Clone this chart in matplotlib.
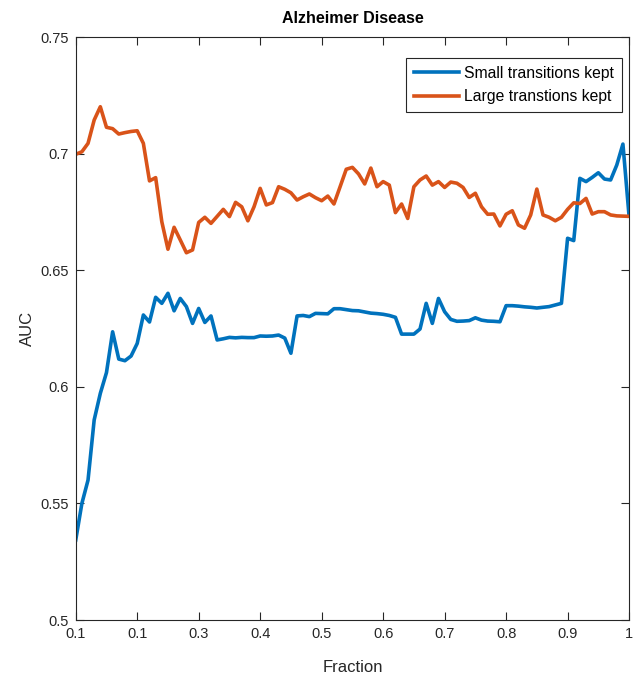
import numpy as np
import matplotlib
matplotlib.use("Agg")
import matplotlib.pyplot as plt

plt.rcParams['font.family'] = ['Liberation Sans', 'DejaVu Sans']

# fraction of transitions kept, 0.10 .. 1.00
fraction = np.round(np.arange(0.10, 1.001, 0.01), 2)

small_kept = [
    0.5343, 0.5500, 0.5600, 0.5858, 0.5972, 0.6061, 0.6236, 0.6119, 0.6112, 0.6132,
    0.6186, 0.6308, 0.6278, 0.6384, 0.6358, 0.6401, 0.6326, 0.6379, 0.6344, 0.6272,
    0.6336, 0.6276, 0.6304, 0.6201, 0.6206, 0.6212, 0.6210, 0.6212, 0.6211, 0.6211,
    0.6218, 0.6217, 0.6218, 0.6222, 0.6209, 0.6144, 0.6304, 0.6306, 0.6301, 0.6315,
    0.6314, 0.6313, 0.6335, 0.6335, 0.6331, 0.6327, 0.6326, 0.6321, 0.6316, 0.6314,
    0.6311, 0.6306, 0.6298, 0.6226, 0.6226, 0.6226, 0.6248, 0.6358, 0.6272, 0.6379,
    0.6322, 0.6289, 0.6281, 0.6282, 0.6284, 0.6296, 0.6286, 0.6282, 0.6281, 0.6279,
    0.6348, 0.6348, 0.6346, 0.6343, 0.6341, 0.6338, 0.6341, 0.6344, 0.6351, 0.6358,
    0.6637, 0.6627, 0.6894, 0.6880, 0.6898, 0.6918, 0.6891, 0.6887, 0.6951, 0.7041,
    0.6732,
]

large_kept = [
    0.6997, 0.7008, 0.7044, 0.7144, 0.7201, 0.7113, 0.7107, 0.7084, 0.7090, 0.7095,
    0.7098, 0.7044, 0.6883, 0.6897, 0.6708, 0.6590, 0.6684, 0.6630, 0.6575, 0.6587,
    0.6705, 0.6727, 0.6701, 0.6731, 0.6761, 0.6730, 0.6791, 0.6772, 0.6712, 0.6772,
    0.6851, 0.6780, 0.6790, 0.6858, 0.6847, 0.6832, 0.6801, 0.6815, 0.6827, 0.6811,
    0.6798, 0.6818, 0.6784, 0.6858, 0.6933, 0.6941, 0.6913, 0.6870, 0.6938, 0.6858,
    0.6880, 0.6865, 0.6747, 0.6784, 0.6722, 0.6858, 0.6887, 0.6904, 0.6865, 0.6880,
    0.6855, 0.6878, 0.6873, 0.6855, 0.6812, 0.6830, 0.6772, 0.6740, 0.6741, 0.6690,
    0.6740, 0.6755, 0.6694, 0.6680, 0.6737, 0.6848, 0.6737, 0.6727, 0.6712, 0.6727,
    0.6761, 0.6789, 0.6786, 0.6808, 0.6741, 0.6751, 0.6751, 0.6737, 0.6733, 0.6732,
    0.6731,
]

xticks = [0.1, 0.2, 0.3, 0.4, 0.5, 0.6, 0.7, 0.8, 0.9, 1.0]
xtick_labels = ['0.1', '0.1', '0.3', '0.4', '0.5', '0.6', '0.7', '0.8', '0.9', '1']
yticks = [0.5, 0.55, 0.6, 0.65, 0.7, 0.75]
ytick_labels = ['0.5', '0.55', '0.6', '0.65', '0.7', '0.75']

fig = plt.figure(figsize=(6.38, 6.78), dpi=100)
ax = fig.add_axes([0.1187, 0.0855, 0.8673, 0.8599])

ax.plot(fraction, small_kept, color='#0072BD', lw=2.6, label='Small transitions kept')
ax.plot(fraction, large_kept, color='#D95319', lw=2.6, label='Large transtions kept')

ax.set_xlim(0.1, 1.0)
ax.set_ylim(0.5, 0.75)
ax.set_xticks(xticks)
ax.set_xticklabels(xtick_labels)
ax.set_yticks(yticks)
ax.set_yticklabels(ytick_labels)
ax.tick_params(direction='in', length=6, width=0.8, top=True, right=True,
               labelsize=10.5, colors='#262626', pad=5)
for s in ax.spines.values():
    s.set_color('#262626')
    s.set_linewidth(0.8)

ax.set_xlabel('Fraction', fontsize=12, color='#262626', labelpad=14)
ax.set_ylabel('AUC', fontsize=12, color='#262626', labelpad=4)
ax.set_title('Alzheimer Disease', fontsize=11.5, fontweight='bold', pad=10)

leg = ax.legend(loc='upper right', bbox_to_anchor=(0.987, 0.964), fontsize=11.3,
                handlelength=2.9, fancybox=False, framealpha=1, edgecolor='#262626',
                borderaxespad=0, borderpad=0.5, labelspacing=0.55, handletextpad=0.3)
leg.get_frame().set_linewidth(0.8)

fig.savefig('out.png', dpi=100)
